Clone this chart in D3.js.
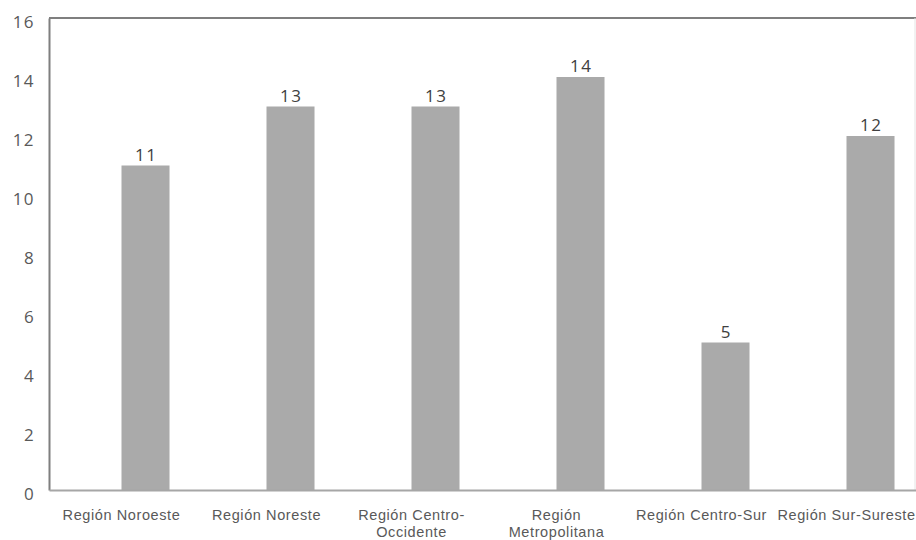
<!DOCTYPE html>
<html>
<head>
<meta charset="utf-8">
<script src="https://cdn.jsdelivr.net/npm/d3@7"></script>
<style>
  html, body { margin: 0; padding: 0; background: #ffffff; }
  svg { display: block; }
</style>
</head>
<body>
<svg id="chart" width="916" height="540"></svg>
<script>
const categories = ["Región Noroeste", "Región Noreste", "Región Centro-Occidente", "Región Metropolitana", "Región Centro-Sur", "Región Sur-Sureste"];
const categoryLines = [["Región Noroeste"], ["Región Noreste"], ["Región Centro-", "Occidente"], ["Región", "Metropolitana"], ["Región Centro-Sur"], ["Región Sur-Sureste"]];
const values = [11, 13, 13, 14, 5, 12];
const yTicks = [0, 2, 4, 6, 8, 10, 12, 14, 16];
const seriesSlots = ["hidden", "value"];

(function () {
const svg = d3.select("#chart");
const mLeft = 49, mRight = 919, mTop = 18, mBottom = 490;

const x = d3.scaleBand().domain(categories).range([mLeft, mRight]).paddingInner(0).paddingOuter(0);
const xSub = d3.scaleBand().domain(seriesSlots).range([0, x.bandwidth()]).paddingInner(0).paddingOuter(0.51);
const y = d3.scaleLinear().domain([0, 16]).range([mBottom, mTop]);

// frame
svg.append("line").attr("x1", mLeft).attr("x2", 916).attr("y1", mTop).attr("y2", mTop)
  .attr("stroke", "#7f7f7f").attr("stroke-width", 2);
svg.append("line").attr("x1", 915).attr("x2", 915).attr("y1", mTop).attr("y2", mBottom)
  .attr("stroke", "#e4e4e4").attr("stroke-width", 1);

// bars
svg.append("g").selectAll("rect").data(values).join("rect")
  .attr("x", (d, i) => x(categories[i]) + xSub("value"))
  .attr("width", xSub.bandwidth())
  .attr("y", d => y(d))
  .attr("height", d => y(0) - y(d))
  .attr("fill", "#aaaaaa");

// value labels
svg.append("g").selectAll("text").data(values).join("text")
  .attr("x", (d, i) => x(categories[i]) + xSub("value") + xSub.bandwidth() / 2 + 0.7)
  .attr("y", d => y(d) - 5)
  .attr("text-anchor", "middle")
  .attr("font-family", "'Open Sans', sans-serif")
  .attr("font-size", 17)
  .attr("letter-spacing", 1.4)
  .attr("fill", "#404040")
  .text(d => d);

// y axis
const yAxis = d3.axisLeft(y).tickValues(yTicks).tickSize(0).tickPadding(14);
const gy = svg.append("g").attr("transform", `translate(${mLeft},0)`).call(yAxis);
gy.select(".domain").attr("stroke", "#7f7f7f").attr("stroke-width", 2);
gy.selectAll("text")
  .attr("font-family", "'Open Sans', sans-serif")
  .attr("font-size", 17)
  .attr("letter-spacing", 1.4)
  .attr("dy", "0.55em")
  .attr("fill", "#595959");

// x axis
const xAxis = d3.axisBottom(x).tickSize(0).tickFormat("");
const gx = svg.append("g").attr("transform", `translate(0,${mBottom})`).call(xAxis);
gx.select(".domain").attr("stroke", "#a6a6a6").attr("stroke-width", 2);

gx.selectAll(".tick").each(function(d, i) {
  const t = d3.select(this).append("text")
    .attr("text-anchor", "middle")
    .attr("font-family", "'Liberation Sans', Arial, sans-serif")
    .attr("font-size", 14.5)
    .attr("letter-spacing", 0.6)
    .attr("fill", "#595959");
  categoryLines[i].forEach((line, j) => {
    t.append("tspan").attr("x", 0).attr("y", 30 + j * 17).text(line);
  });
});
})();
</script>
</body>
</html>
